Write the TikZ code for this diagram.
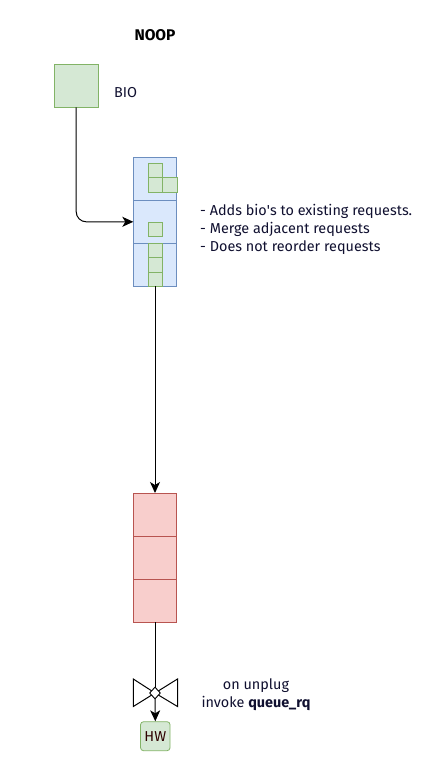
\documentclass[tikz,border=0pt]{standalone}
\usepackage{fontspec}
\setmainfont{Fira Sans}
\usetikzlibrary{shapes.geometric,arrows.meta}
\definecolor{gfill}{HTML}{D5E8D4}
\definecolor{gline}{HTML}{82B366}
\definecolor{bfill}{HTML}{DAE8FC}
\definecolor{bline}{HTML}{6C8EBF}
\definecolor{rfill}{HTML}{F8CECC}
\definecolor{rline}{HTML}{B85450}
\definecolor{txtc}{HTML}{101030}
\begin{document}
\begin{tikzpicture}[x=1pt,y=-1pt,
  txt/.style={font=\fontsize{14.4}{18}\selectfont, inner sep=0pt, text=txtc},
  gbox/.style={draw=gline, fill=gfill, line width=0.8pt},
  bcell/.style={draw=bline, fill=bfill, line width=0.8pt, minimum width=43.4pt, minimum height=43pt, inner sep=0pt, outer sep=0pt},
  rcell/.style={draw=rline, fill=rfill, line width=0.8pt, minimum width=43.4pt, minimum height=43pt, inner sep=0pt, outer sep=0pt},
  sq/.style={draw=gline, fill=gfill, line width=0.8pt, minimum size=14.3pt, inner sep=0pt, outer sep=0pt},
  conn/.style={draw=black, line width=1pt},
  arr/.style={conn, -{Stealth[length=11pt,width=10pt,inset=3pt]}}
]
\useasboundingbox (0,0) rectangle (429,769);
\fill[white] (0,0) rectangle (429,769);

\node[txt, font=\fontsize{15.5}{18}\selectfont\bfseries, text=black] (title) at (155,35) {NOOP};

\node[gbox, minimum width=43.5pt, minimum height=43pt, inner sep=0pt] (bio) at (76.2,85.5) {};
\node[txt, anchor=west] (biolbl) at (114,93) {BIO};

% blue stack
\node[bcell] (b1) at (155,178.8) {};
\node[bcell] (b2) at (155,221.8) {};
\node[bcell] (b3) at (155,264.8) {};
\node[sq] (s1) at (155.5,170.5) {};
\node[sq] (s2) at (155.5,184.8) {};
\node[sq] (s3) at (169.8,184.8) {};
\node[sq] (s4) at (155.5,229.3) {};
\node[sq] (s5) at (155.5,250.5) {};
\node[sq] (s6) at (155.5,264.8) {};
\node[sq] (s7) at (155.5,279.1) {};

\node[txt, anchor=west, align=left] (notes) at (200,229.5) {- Adds bio\textquotesingle s to existing requests.\\- Merge adjacent requests\\- Does not reorder requests};

% red stack
\node[rcell] (r1) at (155,514.5) {};
\node[rcell] (r2) at (155,557.5) {};
\node[rcell] (r3) at (155,600.5) {};

% valve
\coordinate (valve) at (155,693);
\draw[conn, fill=white, line join=miter] (133.3,679) -- (133.3,706.5) -- (valve) -- cycle;
\draw[conn, fill=white, line join=miter] (177.5,679) -- (177.5,706.5) -- (valve) -- cycle;

\node[gbox, rounded corners=3pt, minimum width=29.5pt, minimum height=29pt, inner sep=0pt, text=black!70!red!60!black, font=\fontsize{14.4}{16}\selectfont] (hw) at (155.3,736.2) {HW};

\node[txt, align=center] (valvelbl) at (256,694.5) {on unplug\\invoke \textbf{queue\_rq}};

% connectors
\draw[arr, rounded corners=10pt] (bio.south) |- (b2.west);
\draw[arr] (b3.south) -- (r1.north);
\draw[conn] (r3.south) -- (valve);
\draw[arr] (valve) -- (hw.north);
\node[diamond, draw=black, fill=white, line width=0.9pt, minimum width=11pt, minimum height=12pt, inner sep=0pt] (dia) at (valve) {};
\end{tikzpicture}
\end{document}
